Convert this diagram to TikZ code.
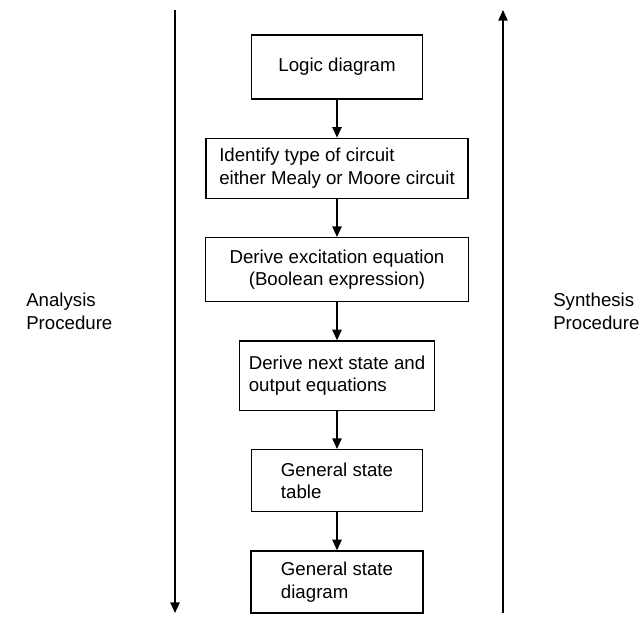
\documentclass[tikz,border=0pt]{standalone}
\usepackage{fontspec}
\setmainfont{Liberation Sans}
\usetikzlibrary{positioning, arrows.meta}

\begin{document}
\begin{tikzpicture}[x=0.75pt, y=-0.75pt, node distance=28.5pt,
		>={Triangle[length=8pt,width=7pt]},
		every edge/.style={draw, line width=1.2pt},
		box/.style={draw, line width=1pt, inner sep=2pt, font=\fontsize{14}{17}\selectfont},
		side/.style={align=left, inner sep=0pt, font=\fontsize{14}{17}\selectfont}]
	\useasboundingbox (0,0) rectangle (641,619);
	
	\node[box, minimum width=128pt, minimum height=48pt] (logic) at (337,67) {Logic diagram};
	\node[box, below=of logic, align=left, minimum width=196.5pt, minimum height=45pt] (type) {Identify type of circuit\\either Mealy or Moore circuit};
	\node[box, below=of type, align=center, minimum width=197pt, minimum height=48pt] (excite) {Derive excitation equation\\(Boolean expression)};
	\node[box, below=of excite, align=left, minimum width=146pt, minimum height=52pt] (next) {Derive next state and\\output equations};
	\node[box, below=of next, align=left, minimum width=128pt, minimum height=46.5pt] (table) {General state\\table};
	\node[box, below=of table, align=left, minimum width=129pt, minimum height=46.5pt] (diag) {General state\\diagram};
	
	\coordinate (atop) at (175,10);
	\coordinate (abot) at (175,613);
	\coordinate (stop) at (503,10);
	\coordinate (sbot) at (503,613);
	\node[side, anchor=west] (analysis) at (26,311) {Analysis\\Procedure};
	\node[side, anchor=west] (synthesis) at (553,311) {Synthesis\\Procedure};
	
	\draw
	(logic) edge[->] (type)
	(type) edge[->] (excite)
	(excite) edge[->] (next)
	(next) edge[->] (table)
	(table) edge[->] (diag)
	(atop) edge[->] (abot)
	(sbot) edge[->] (stop);
\end{tikzpicture}
\end{document}
